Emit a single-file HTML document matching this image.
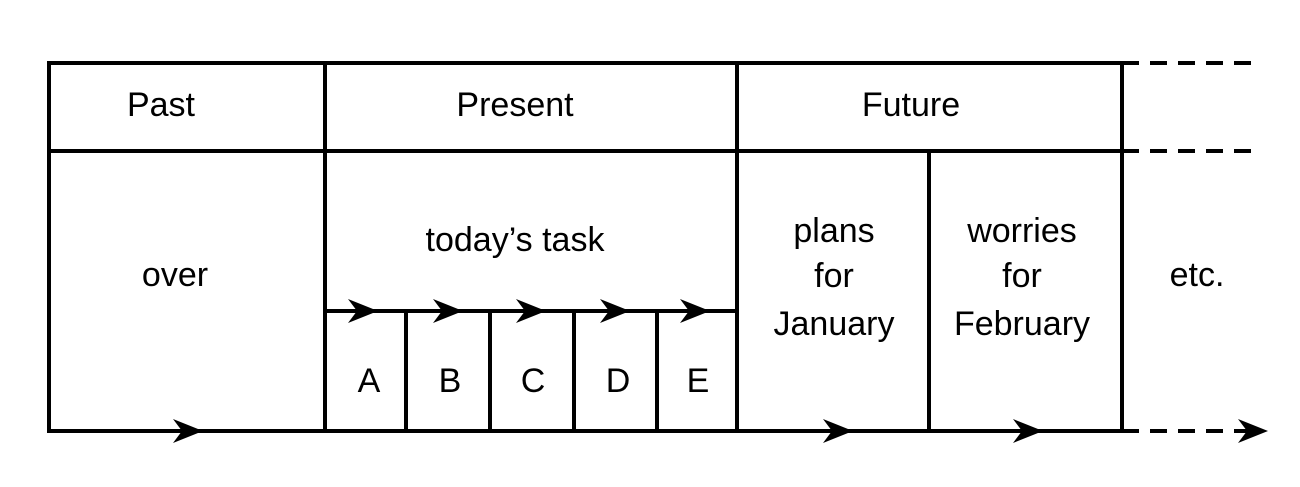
<!DOCTYPE html>
<html><head><meta charset="utf-8"><style>
html,body{margin:0;padding:0;background:#fff;width:1300px;height:487px;overflow:hidden}
text{font-family:"Liberation Sans",sans-serif;font-size:34px;fill:#000;text-anchor:middle}
</style></head><body>
<svg width="1300" height="487" viewBox="0 0 1300 487">
<defs>
<path id="ah" d="M0,0 L-30,-12 L-21,0 L-30,12 Z" fill="#000"/>
</defs>
<g stroke="#000" stroke-width="4" fill="none">
<rect x="49" y="63" width="1073" height="368"/>
<line x1="49" y1="151" x2="1122" y2="151"/>
<line x1="325" y1="63" x2="325" y2="431"/>
<line x1="737" y1="63" x2="737" y2="431"/>
<line x1="929" y1="151" x2="929" y2="431"/>
<line x1="325" y1="311" x2="737" y2="311"/>
<line x1="406" y1="311" x2="406" y2="431"/>
<line x1="490" y1="311" x2="490" y2="431"/>
<line x1="574" y1="311" x2="574" y2="431"/>
<line x1="657" y1="311" x2="657" y2="431"/>
<g stroke-dasharray="17 11">
<line x1="1122" y1="63" x2="1258" y2="63"/>
<line x1="1122" y1="151" x2="1258" y2="151"/>
<line x1="1122" y1="431" x2="1250" y2="431"/>
</g>
</g>
<use href="#ah" x="1268" y="431"/>
<use href="#ah" x="203" y="431"/>
<use href="#ah" x="853" y="431"/>
<use href="#ah" x="1043" y="431"/>
<use href="#ah" x="378" y="311"/>
<use href="#ah" x="463" y="311"/>
<use href="#ah" x="546" y="311"/>
<use href="#ah" x="630" y="311"/>
<use href="#ah" x="710" y="311"/>
<text x="161" y="116">Past</text>
<text x="515" y="116">Present</text>
<text x="911" y="116">Future</text>
<text x="175" y="286">over</text>
<text x="515" y="251">today’s task</text>
<text x="834" y="242">plans</text>
<text x="834" y="287">for</text>
<text x="834" y="335">January</text>
<text x="1022" y="242">worries</text>
<text x="1022" y="287">for</text>
<text x="1022" y="335">February</text>
<text x="1197" y="286">etc.</text>
<text x="369" y="392">A</text>
<text x="450" y="392">B</text>
<text x="533" y="392">C</text>
<text x="618" y="392">D</text>
<text x="698" y="392">E</text>
</svg>
</body></html>
